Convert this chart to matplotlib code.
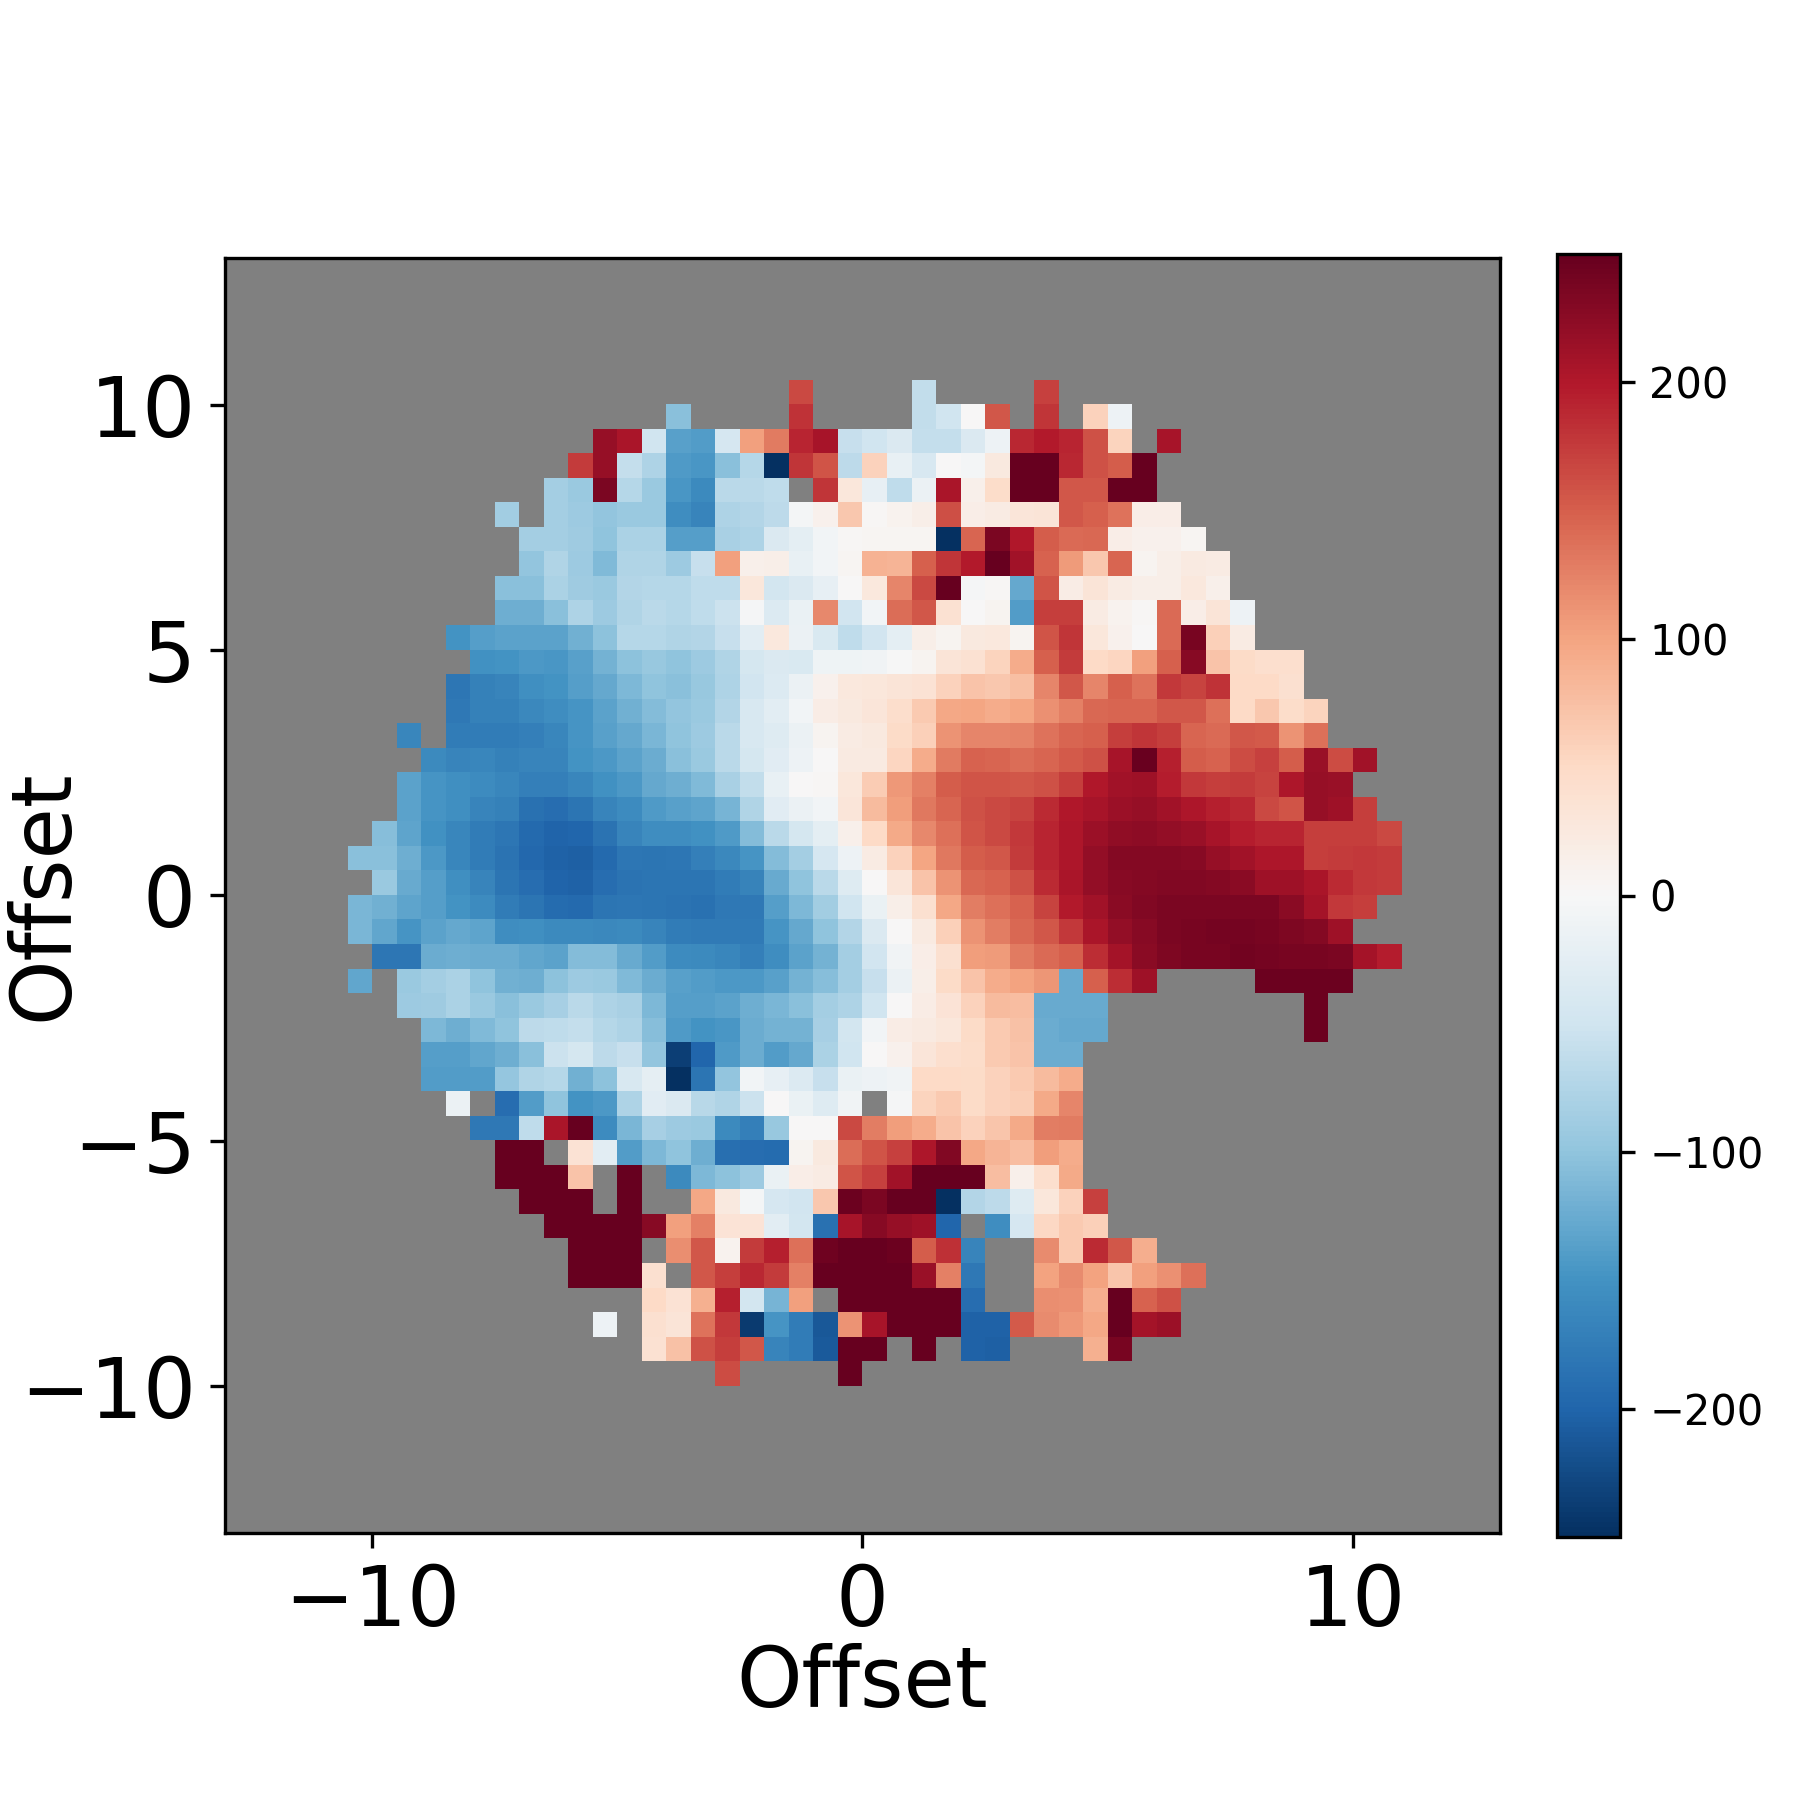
import numpy as np
import matplotlib
matplotlib.use('Agg')
import matplotlib.pyplot as plt

n = np.nan

# velocity map, read row by row from the top (y = 10.5) down, each row starts at its column in first_col
first_col = [23, 18, 15, 14, 13, 11, 12, 12, 11, 11, 9, 10, 9, 9, 7, 8, 7, 7, 6, 5, 6,
             5, 5, 6, 5, 7, 8, 8, 8, 9, 10, 11, 11, 12, 13, 14, 14, 17, 15, 17, 20]

row_00 = [165, n, n, n, n, -62, n, n, n, n, 170]
row_01 = [-105, n, n, n, n, 180, n, n, n, n, -62, -50, 0, 155, n, 178, n, 58, -12]
row_02 = [218, 205, -50, -135, -140, -42, 103, 130, 190, 207, -58, -50, -36, -60, -60, -36, -12, 188, 198, 190, 160,
          55, n, 206]
row_03 = [175, 218, -60, -78, -142, -146, -105, -72, -250, 178, 158, -65, 58, -18, -40, 0, -4, 25, 250, 250, 188,
          160, 152, 250]
row_04 = [-85, -92, 235, -72, -92, -145, -160, -68, -67, -63, n, 178, 28, -20, -63, -14, 205, 12, 45, 250, 250, 155,
          155, 250, 250]
row_05 = [-87, n, -85, -90, -98, -92, -92, -155, -165, -78, -74, -65, -5, 10, 68, 3, 8, 15, 162, 17, 20, 30, 32, 155,
          150, 135, 17, 17]
row_06 = [-85, -85, -88, -100, -80, -80, -138, -138, -82, -78, -36, -25, -7, 2, 4, 4, 5, -250, 145, 235, 200, 152,
          142, 143, 17, 11, 11, 4]
row_07 = [-98, -75, -90, -110, -75, -75, -90, -58, 103, 12, 14, -18, -7, 4, 87, 85, 150, 178, 198, 250, 210, 148, 106,
          68, 145, 6, 15, 22, 20]
row_08 = [-105, -105, -80, -88, -92, -74, -72, -72, -63, -63, 28, -45, -36, -20, 0, 27, 122, 165, 250, -3, 3, -128,
          158, 18, 32, 20, 15, 15, 26, 13]
row_09 = [-122, -122, -105, -78, -90, -75, -68, -72, -63, -54, -3, -35, -17, 120, -48, -7, 140, 155, 38, 0, 7, -140,
          172, 172, 20, 8, 2, 142, 16, 32, -12]
row_10 = [-150, -138, -134, -134, -133, -120, -103, -72, -72, -75, -73, -58, -27, 27, -15, -38, -63, -47, -24, 14, 7,
          24, 26, 6, 158, 178, 28, 10, 0, 141, 238, 60, 20]
row_11 = [-152, -150, -143, -145, -135, -118, -102, -95, -100, -90, -76, -43, -37, -38, -11, -10, -8, -1, 7, 32, 38,
          55, 92, 150, 174, 50, 53, 102, 150, 228, 72, 47, 42, 42]
row_12 = [-180, -168, -165, -154, -150, -138, -127, -112, -100, -105, -95, -78, -48, -35, -15, 10, 27, 28, 32, 36, 58,
          72, 67, 75, 122, 155, 122, 150, 135, 176, 168, 180, 50, 50, 40]
row_13 = [-178, -168, -168, -162, -156, -147, -133, -121, -108, -98, -92, -74, -40, -27, -6, 18, 25, 30, 44, 66, 97,
          99, 93, 98, 115, 125, 143, 145, 146, 155, 156, 138, 50, 68, 45, 55]
row_14 = [-163, n, -175, -175, -175, -170, -163, -148, -136, -128, -114, -100, -90, -68, -40, -33, -14, 7, 21, 25, 47,
          60, 112, 122, 123, 124, 135, 145, 150, 173, 178, 173, 145, 142, 155, 153, 112, 137]
row_15 = [-160, -165, -164, -168, -165, -165, -150, -143, -134, -125, -105, -92, -68, -43, -28, -12, 0, 22, 22, 53, 92,
          130, 148, 145, 140, 145, 153, 160, 207, 248, 195, 152, 148, 163, 170, 152, 215, 163, 210]
row_16 = [-134, -148, -154, -157, -164, -170, -170, -164, -152, -143, -127, -123, -110, -82, -62, -18, 0, 3, 28, 63,
          108, 125, 152, 158, 158, 156, 160, 172, 200, 210, 212, 197, 176, 172, 174, 168, 203, 217, 216]
row_17 = [-134, -148, -154, -165, -168, -186, -190, -182, -165, -158, -142, -136, -132, -116, -76, -28, -14, -6, 30,
          80, 104, 132, 145, 160, 165, 168, 186, 200, 207, 213, 218, 210, 203, 195, 188, 165, 158, 218, 212, 172]
row_18 = [-107, -132, -152, -163, -175, -180, -195, -200, -198, -185, -165, -155, -155, -151, -142, -108, -68, -44,
          -25, 13, 50, 95, 120, 137, 157, 165, 176, 190, 202, 213, 222, 224, 220, 215, 206, 197, 190, 190, 172, 173,
          173, 165]
row_19 = [-105, -105, -122, -144, -163, -175, -185, -197, -202, -205, -195, -180, -182, -180, -170, -162, -148, -108,
          -85, -42, -12, 20, 58, 98, 132, 152, 156, 175, 190, 203, 220, 230, 230, 230, 228, 218, 210, 202, 202, 172,
          174, 177, 175]
row_20 = [-93, -126, -138, -154, -165, -183, -190, -200, -203, -190, -185, -182, -182, -183, -175, -167, -126, -100,
          -68, -33, 1, 30, 72, 112, 144, 148, 160, 186, 204, 220, 228, 230, 232, 232, 230, 226, 212, 212, 204, 186,
          177, 174]
row_21 = [-115, -120, -132, -137, -150, -157, -174, -183, -193, -194, -182, -180, -182, -184, -187, -178, -179, -138,
          -112, -87, -50, -17, 15, 40, 97, 128, 138, 148, 168, 198, 210, 226, 232, 236, 236, 236, 236, 235, 226, 208,
          177, 172]
row_22 = [-115, -130, -147, -134, -128, -131, -155, -154, -160, -160, -162, -160, -166, -175, -177, -177, -177, -148,
          -128, -100, -73, -36, 0, 22, 60, 112, 127, 143, 155, 176, 204, 220, 228, 235, 237, 239, 239, 237, 234, 230,
          212]
row_23 = [-180, -180, -125, -123, -125, -124, -130, -133, -108, -108, -126, -140, -158, -160, -164, -170, -156, -133,
          -118, -85, -47, -8, 16, 40, 104, 106, 130, 142, 150, 184, 208, 226, 233, 238, 238, 242, 240, 238, 238, 236,
          208, 197]
row_24 = [-130, n, -92, -85, -80, -100, -120, -122, -103, -90, -93, -110, -125, -136, -140, -143, -144, -135, -118,
          -106, -85, -58, -15, 15, 47, 72, 92, 100, 110, -126, 150, 184, 212, n, n, n, n, 245, 245, 245, 245]
row_25 = [-90, -88, -80, -92, -105, -92, -83, -68, -78, -82, -112, -138, -137, -134, -123, -114, -104, -85, -78, -50,
          0, 18, 35, 58, 80, 78, -126, -126, -126, n, n, n, n, n, n, n, n, 245]
row_26 = [-112, -123, -110, -100, -66, -64, -60, -72, -78, -106, -142, -150, -145, -125, -118, -118, -83, -45, -7, 19,
          22, 29, 48, 66, 73, -124, -128, -128, n, n, n, n, n, n, n, n, 245]
row_27 = [-138, -138, -130, -123, -105, -54, -43, -65, -58, -98, -235, -198, -142, -125, -140, -127, -80, -50, 0, 10,
          30, 42, 46, 65, 72, -124, -124]
row_28 = [-139, -139, -140, -96, -75, -72, -120, -102, -40, -22, -250, -182, -98, -6, -20, -35, -58, -17, -12, -9, 50,
          50, 47, 58, 66, 80, 93]
row_29 = [-15, n, -190, -140, -100, -150, -144, -77, -28, -36, -70, -75, -53, 0, -16, -33, -8, n, -3, 55, 65, 48, 58,
          62, 95, 122]
row_30 = [-178, -178, -64, 205, 250, -157, -115, -83, -90, -92, -160, -170, -95, 0, 0, 165, 128, 104, 92, 72, 57, 70,
          94, 128, 130]
row_31 = [250, 250, n, 37, -27, -140, -112, -101, -122, -188, -190, -193, 7, 25, 140, 158, 170, 202, 232, 97, 85, 78,
          105, 92]
row_32 = [250, 250, 250, 72, n, 250, n, -160, -112, -103, -90, -16, 17, 20, 157, 170, 210, 250, 250, 250, 78, 12, 42,
          95]
row_33 = [250, 250, 250, n, 250, n, n, 96, 25, -5, -42, -48, 67, 245, 235, 250, 250, -250, -73, -66, -32, 28, 58, 170]
row_34 = [250, 250, 250, 250, 228, 102, 125, 35, 35, -27, -45, -187, 207, 228, 218, 212, -198, n, -155, -42, 52, 65,
          60]
row_35 = [250, 250, 250, n, 116, 156, 8, 174, 195, 138, 244, 250, 250, 245, 152, 182, -165, n, n, 118, 65, 186, 156,
          90]
row_36 = [250, 250, 250, 40, n, 155, 172, 188, 174, 126, 250, 250, 250, 250, 216, 125, -178, n, n, 100, 118, 100, 70,
          102, 115, 138]
row_37 = [50, 36, 88, 195, -45, -116, 102, n, 250, 250, 250, 250, 250, -190, n, n, 116, 114, 90, 250, 148, 160]
row_38 = [-12, n, 40, 33, 135, 176, -240, -147, -175, -212, 112, 206, 250, 250, 250, -203, -203, 153, 118, 108, 96,
          250, 208, 214]
row_39 = [38, 74, 160, 172, 156, -165, -175, -210, 250, 250, n, 250, n, -202, -205, n, n, n, 88, 238]
row_40 = [163, n, n, n, n, 250]

rows = [row_00, row_01, row_02, row_03, row_04, row_05, row_06, row_07, row_08, row_09, row_10,
        row_11, row_12, row_13, row_14, row_15, row_16, row_17, row_18, row_19, row_20,
        row_21, row_22, row_23, row_24, row_25, row_26, row_27, row_28, row_29, row_30,
        row_31, row_32, row_33, row_34, row_35, row_36, row_37, row_38, row_39, row_40]

# 52 x 52 grid, 0.5 per cell, the map begins 5 rows below the top
vel_map = np.full((52, 52), np.nan)
for i, row in enumerate(rows):
    vel_map[5 + i, first_col[i]:first_col[i] + len(row)] = row

cmap = plt.get_cmap('RdBu_r').copy()
cmap.set_bad('#808080')

fig = plt.figure(figsize=(6, 6), dpi=300)
ax = fig.add_axes([0.125, 0.1483, 0.7082, 0.7085])
im = ax.imshow(vel_map, origin='upper', extent=[-13, 13, -13, 13], cmap=cmap, vmin=-250, vmax=250,
               interpolation='nearest', aspect='auto')
ax.set_xticks([-10, 0, 10])
ax.set_yticks([-10, -5, 0, 5, 10])
ax.tick_params(labelsize=20)
ax.set_xlabel('Offset', fontsize=20, labelpad=0)
ax.set_ylabel('Offset', fontsize=20)
# the y label sits over the tick label column, as in the original
ax.yaxis.set_label_coords(-0.110, 0.5)

cax = fig.add_axes([0.8648, 0.1461, 0.0352, 0.7128])
fig.colorbar(im, cax=cax)

fig.savefig('out.png', dpi=300)
